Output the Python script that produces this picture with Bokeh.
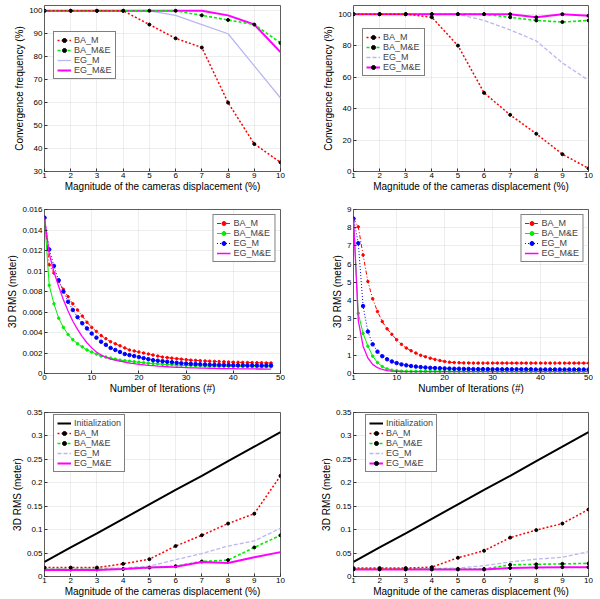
from bokeh.plotting import figure
from bokeh.layouts import column, row
from bokeh.models import (Legend, LegendItem, FixedTicker, CustomJSTickFormatter,
                          Label, Range1d)
from bokeh.embed import file_html
from bokeh.resources import INLINE

FONT = "Liberation Sans"

# ---------------- data ----------------
disp = [1, 2, 3, 4, 5, 6, 7, 8, 9, 10]

# panel 1 : convergence frequency (left)
p1_ba_m = [100, 100, 100, 100, 94, 88, 84, 60, 42, 34]
p1_ba_me = [100, 100, 100, 100, 100, 100, 98, 96, 94, 86]
p1_eg_m = [100, 100, 100, 100, 100, 98, 94, 90, 76, 62]
p1_eg_me = [100, 100, 100, 100, 100, 100, 100, 98, 94, 82]

# panel 2 : convergence frequency (right)
p2_ba_m = [100, 100, 100, 98, 80, 50, 36, 24, 11, 2]
p2_ba_me = [100, 100, 100, 100, 100, 100, 98, 96, 95, 96]
p2_eg_m = [100, 100, 100, 100, 100, 96, 90, 83, 69, 58]
p2_eg_me = [100, 100, 100, 100, 100, 100, 100, 98, 100, 99]

# panel 3 : 3D RMS vs iterations (left)
iters3 = list(range(0, 49))
p3_ba_m = [0.0152, 0.0106, 0.0098, 0.0090, 0.0082, 0.0075, 0.0068, 0.0062, 0.0056, 0.0050,
           0.0045, 0.0041, 0.0037, 0.0034, 0.0031, 0.0029, 0.0027, 0.0025, 0.0023, 0.0022,
           0.0021, 0.0020, 0.0019, 0.0018, 0.0017, 0.0016, 0.00155, 0.0015, 0.00145, 0.0014,
           0.00135, 0.0013, 0.00128, 0.00125, 0.00122, 0.0012, 0.00118, 0.00116, 0.00114, 0.00112,
           0.0011, 0.00109, 0.00108, 0.00107, 0.00106, 0.00105, 0.00104, 0.00103, 0.00102]
p3_ba_me = [0.0152, 0.0086, 0.0068, 0.0054, 0.0045, 0.0038, 0.0033, 0.0029, 0.0026, 0.0023,
            0.0021, 0.0019, 0.0017, 0.0016, 0.0015, 0.0014, 0.0013, 0.00125, 0.0012, 0.00115,
            0.0011, 0.00105, 0.0010, 0.00097, 0.00094, 0.00091, 0.00088, 0.00085, 0.00083, 0.00081,
            0.00079, 0.00077, 0.00076, 0.00075, 0.00074, 0.00073, 0.00072, 0.00071, 0.0007, 0.0007,
            0.00069, 0.00068, 0.00068, 0.00067, 0.00067, 0.00066, 0.00066, 0.00065, 0.00065]
p3_eg_m = [0.0152, 0.0121, 0.0105, 0.0091, 0.0080, 0.0070, 0.0062, 0.0055, 0.0049, 0.0044,
           0.0039, 0.0035, 0.0031, 0.0028, 0.0025, 0.0023, 0.0021, 0.0019, 0.0018, 0.0017,
           0.0016, 0.0015, 0.0014, 0.0013, 0.00125, 0.0012, 0.00115, 0.0011, 0.00105, 0.0010,
           0.00097, 0.00094, 0.00092, 0.0009, 0.00088, 0.00086, 0.00085, 0.00084, 0.00083, 0.00082,
           0.00081, 0.0008, 0.0008, 0.00079, 0.00079, 0.00078, 0.00078, 0.00078, 0.00078]
p3_eg_me = [0.0152, 0.0117, 0.0099, 0.0085, 0.0072, 0.0061, 0.0051, 0.0043, 0.0036, 0.0030,
            0.0025, 0.0021, 0.0018, 0.0016, 0.0014, 0.0013, 0.0012, 0.0011, 0.00102, 0.00096,
            0.0009, 0.00085, 0.0008, 0.00076, 0.00072, 0.00069, 0.00066, 0.00063, 0.00061, 0.00059,
            0.00057, 0.00055, 0.00054, 0.00053, 0.00052, 0.00051, 0.0005, 0.00049, 0.00048, 0.00048,
            0.00047, 0.00046, 0.00046, 0.00045, 0.00045, 0.00044, 0.00044, 0.00043, 0.00043]

# panel 4 : 3D RMS vs iterations (right), values in units of 1e-3 m
iters4 = list(range(1, 51))
p4_ba_m = [8.5, 8.05, 6.5, 5.05, 4.1, 3.4, 2.85, 2.45, 2.15, 1.85,
           1.6, 1.4, 1.25, 1.12, 1.0, 0.92, 0.84, 0.77, 0.71, 0.66,
           0.62, 0.6, 0.59, 0.58, 0.58, 0.57, 0.57, 0.57, 0.57, 0.57,
           0.57, 0.57, 0.57, 0.57, 0.57, 0.57, 0.57, 0.57, 0.57, 0.57,
           0.57, 0.57, 0.57, 0.57, 0.57, 0.57, 0.57, 0.57, 0.57, 0.57]
p4_ba_me = [8.5, 3.3, 2.2, 1.5, 0.95, 0.6, 0.38, 0.25, 0.18, 0.15,
            0.13, 0.12, 0.12, 0.12, 0.12, 0.12, 0.12, 0.12, 0.12, 0.12,
            0.12, 0.12, 0.12, 0.12, 0.12, 0.12, 0.12, 0.12, 0.12, 0.12,
            0.12, 0.12, 0.12, 0.12, 0.12, 0.12, 0.12, 0.12, 0.12, 0.12,
            0.12, 0.12, 0.12, 0.12, 0.12, 0.12, 0.12, 0.12, 0.12, 0.12]
p4_eg_m = [8.5, 7.15, 3.7, 2.3, 1.6, 1.2, 0.95, 0.78, 0.66, 0.57,
           0.5, 0.45, 0.41, 0.38, 0.35, 0.33, 0.31, 0.3, 0.29, 0.28,
           0.27, 0.26, 0.26, 0.25, 0.25, 0.24, 0.24, 0.24, 0.24, 0.23,
           0.23, 0.23, 0.23, 0.23, 0.23, 0.23, 0.23, 0.23, 0.22, 0.22,
           0.22, 0.22, 0.22, 0.22, 0.22, 0.22, 0.22, 0.22, 0.22, 0.22]
p4_eg_me = [8.5, 2.9, 1.5, 0.85, 0.5, 0.32, 0.22, 0.16, 0.13, 0.12,
            0.11, 0.1, 0.1, 0.1, 0.1, 0.1, 0.1, 0.1, 0.1, 0.1,
            0.1, 0.1, 0.1, 0.1, 0.1, 0.1, 0.1, 0.1, 0.1, 0.1,
            0.1, 0.1, 0.1, 0.1, 0.1, 0.1, 0.1, 0.1, 0.1, 0.1,
            0.1, 0.1, 0.1, 0.1, 0.1, 0.1, 0.1, 0.1, 0.1, 0.1]

# panel 5 : 3D RMS vs displacement (left)
init_rms = [0.031, 0.062, 0.092, 0.123, 0.154, 0.185, 0.215, 0.246, 0.277, 0.308]
p5_ba_m = [0.019, 0.019, 0.019, 0.027, 0.037, 0.065, 0.088, 0.113, 0.134, 0.215]
p5_ba_me = [0.015, 0.015, 0.015, 0.016, 0.019, 0.022, 0.032, 0.035, 0.062, 0.088]
p5_eg_m = [0.017, 0.017, 0.018, 0.018, 0.022, 0.036, 0.049, 0.065, 0.076, 0.103]
p5_eg_me = [0.014, 0.014, 0.014, 0.016, 0.019, 0.021, 0.031, 0.029, 0.041, 0.052]

# panel 6 : 3D RMS vs displacement (right)
p6_ba_m = [0.018, 0.018, 0.018, 0.020, 0.040, 0.055, 0.083, 0.099, 0.113, 0.143]
p6_ba_me = [0.016, 0.016, 0.016, 0.016, 0.016, 0.016, 0.025, 0.026, 0.027, 0.028]
p6_eg_m = [0.016, 0.016, 0.017, 0.017, 0.018, 0.023, 0.031, 0.037, 0.041, 0.053]
p6_eg_me = [0.015, 0.015, 0.015, 0.015, 0.015, 0.015, 0.018, 0.019, 0.020, 0.020]

XLAB_DISP = "Magnitude of the cameras displacement (%)"
XLAB_ITER = "Number of Iterations (#)"
YLAB_CONV = "Convergence frequency (%)"
YLAB_RMS = "3D RMS (meter)"

RED = "#ff0000"
GREEN = "#00ee00"
LAV = "#b8b8f0"
MAG = "#ff00ff"
BLUE = "#0000ff"


def make_fig(left_col, height, top, bottom, xr, yr, xticks, yticks, xlabel, ylabel):
    if left_col:
        w, bl, br = 300, 44, 20
    else:
        w, bl, br = 293, 53, 5
    p = figure(width=w, height=height, x_range=Range1d(*xr), y_range=Range1d(*yr),
               output_backend="svg", toolbar_location=None,
               min_border_left=bl, min_border_right=br,
               min_border_top=top, min_border_bottom=bottom)
    p.background_fill_color = "white"
    p.border_fill_color = "white"
    p.outline_line_color = "#333333"
    p.outline_line_width = 0.8
    p.xaxis.ticker = FixedTicker(ticks=xticks)
    p.yaxis.ticker = FixedTicker(ticks=yticks)
    for ax in (p.xaxis[0], p.yaxis[0]):
        ax.axis_line_color = None
        ax.major_tick_in = 3
        ax.major_tick_out = 0
        ax.major_tick_line_color = "#333333"
        ax.minor_tick_line_color = None
        ax.major_label_text_font = FONT
        ax.major_label_text_font_size = "8px"
        ax.major_label_text_color = "black"
        ax.axis_label_text_font = FONT
        ax.axis_label_text_font_size = "10px"
        ax.axis_label_text_font_style = "normal"
        ax.axis_label_text_color = "black"
        ax.formatter = CustomJSTickFormatter(
            code="return parseFloat(tick.toFixed(4)).toString();")
    p.xaxis.major_label_standoff = 1
    p.xaxis.axis_label_standoff = 0
    p.yaxis.major_label_standoff = 2
    p.yaxis.axis_label_standoff = 1
    p.xaxis.axis_label = xlabel
    p.yaxis.axis_label = ylabel
    for g in (p.xgrid[0], p.ygrid[0]):
        g.grid_line_color = "#d0d0d0"
        g.grid_line_dash = "1 1"
        g.grid_line_width = 0.8
    return p


def series(p, x, y, color, width, dash, marker_color=None, msize=3):
    rs = [p.line(x, y, line_color=color, line_width=width, line_dash=dash)]
    if marker_color is not None:
        rs.append(p.scatter(x, y, marker="circle", size=msize,
                            fill_color=marker_color, line_color=marker_color))
    return rs


def legend(p, items, location, margin=0):
    lg = Legend(items=[LegendItem(label=l, renderers=r) for l, r in items],
                location=location, margin=margin)
    lg.border_line_color = "black"
    lg.border_line_width = 0.7
    lg.background_fill_color = "white"
    lg.background_fill_alpha = 1.0
    lg.label_text_font = FONT
    lg.label_text_font_size = "9px"
    lg.label_height = 10
    lg.glyph_height = 10
    lg.glyph_width = 14
    lg.label_standoff = 3
    lg.padding = 3
    lg.spacing = 0
    p.add_layout(lg)


# ---------- row 1 ----------
f1 = make_fig(True, 198, 5, 27, (1, 10), (30, 102.3), disp, [30, 40, 50, 60, 70, 80, 90, 100],
              XLAB_DISP, YLAB_CONV)
r_eg_m = series(f1, disp, p1_eg_m, LAV, 1.3, "solid")
r_eg_me = series(f1, disp, p1_eg_me, MAG, 2, "solid")
r_ba_me = series(f1, disp, p1_ba_me, GREEN, 1.6, "3 2", "black")
r_ba_m = series(f1, disp, p1_ba_m, RED, 1.5, "2 2", "black")
legend(f1, [("BA_M", r_ba_m), ("BA_M&E", r_ba_me), ("EG_M", r_eg_m), ("EG_M&E", r_eg_me)],
       (9, 92))

f2 = make_fig(False, 198, 5, 27, (1, 10), (0, 105.5), disp, [0, 20, 40, 60, 80, 100],
              XLAB_DISP, YLAB_CONV)
r_eg_m = series(f2, disp, p2_eg_m, LAV, 1.3, "4 2")
r_ba_me = series(f2, disp, p2_ba_me, GREEN, 1.6, "3 2", "black")
r_eg_me = series(f2, disp, p2_eg_me, MAG, 2, "solid", "black")
r_ba_m = series(f2, disp, p2_ba_m, RED, 1.5, "2 2", "black")
legend(f2, [("BA_M", r_ba_m), ("BA_M&E", r_ba_me), ("EG_M", r_eg_m), ("EG_M&E", r_eg_me)],
       (9, 95))

# ---------- row 2 ----------
f3 = make_fig(True, 202, 11, 27, (0, 50), (0, 0.016), [0, 10, 20, 30, 40, 50],
              [0, 0.002, 0.004, 0.006, 0.008, 0.01, 0.012, 0.014, 0.016],
              XLAB_ITER, YLAB_RMS)
r_ba_m = series(f3, iters3, p3_ba_m, RED, 1, "4 2 1 2", RED, 2.5)
r_ba_me = series(f3, iters3, p3_ba_me, GREEN, 1, "solid", GREEN, 2.5)
r_eg_m = series(f3, iters3, p3_eg_m, BLUE, 1, "1 2", BLUE, 3.5)
r_eg_me = series(f3, iters3, p3_eg_me, MAG, 1.3, "solid")
legend(f3, [("BA_M", r_ba_m), ("BA_M&E", r_ba_me), ("EG_M", r_eg_m), ("EG_M&E", r_eg_me)],
       "top_right", 5)

f4 = make_fig(False, 202, 11, 27, (1, 50), (0, 9), [1, 10, 20, 30, 40, 50],
              [0, 1, 2, 3, 4, 5, 6, 7, 8, 9], XLAB_ITER, YLAB_RMS)
r_ba_m = series(f4, iters4, p4_ba_m, RED, 1, "4 2 1 2", RED, 2.5)
r_ba_me = series(f4, iters4, p4_ba_me, GREEN, 1, "solid", GREEN, 2.5)
r_eg_m = series(f4, iters4, p4_eg_m, BLUE, 1, "1 2", BLUE, 3.5)
r_eg_me = series(f4, iters4, p4_eg_me, MAG, 1.3, "solid")
legend(f4, [("BA_M", r_ba_m), ("BA_M&E", r_ba_me), ("EG_M", r_eg_m), ("EG_M&E", r_eg_me)],
       "top_right", 5)
f4.add_layout(Label(x=1, y=9, x_offset=1, y_offset=1, text="x 10", text_font=FONT,
                    text_font_size="8px", text_baseline="bottom", text_align="left"))
f4.add_layout(Label(x=1, y=9, x_offset=19, y_offset=5, text="-3", text_font=FONT,
                    text_font_size="6px", text_baseline="bottom", text_align="left"))

# ---------- row 3 ----------
rms_ticks = [0, 0.05, 0.1, 0.15, 0.2, 0.25, 0.3, 0.35]
f5 = make_fig(True, 199, 12, 23, (1, 10), (0, 0.35), disp, rms_ticks, XLAB_DISP, YLAB_RMS)
r_init = series(f5, disp, init_rms, "black", 2, "solid")
r_eg_m = series(f5, disp, p5_eg_m, LAV, 1.3, "4 2")
r_ba_me = series(f5, disp, p5_ba_me, GREEN, 1.6, "3 2", "black")
r_eg_me = series(f5, disp, p5_eg_me, MAG, 2, "solid")
r_ba_m = series(f5, disp, p5_ba_m, RED, 1.5, "2 2", "black")
legend(f5, [("Initialization", r_init), ("BA_M", r_ba_m), ("BA_M&E", r_ba_me),
            ("EG_M", r_eg_m), ("EG_M&E", r_eg_me)], (9, 104))

f6 = make_fig(False, 199, 12, 23, (1, 10), (0, 0.35), disp, rms_ticks, XLAB_DISP, YLAB_RMS)
r_init = series(f6, disp, init_rms, "black", 2, "solid")
r_eg_m = series(f6, disp, p6_eg_m, LAV, 1.3, "4 2")
r_ba_me = series(f6, disp, p6_ba_me, GREEN, 1.6, "3 2", "black")
r_eg_me = series(f6, disp, p6_eg_me, MAG, 2, "solid", "black")
r_ba_m = series(f6, disp, p6_ba_m, RED, 1.5, "2 2", "black")
legend(f6, [("Initialization", r_init), ("BA_M", r_ba_m), ("BA_M&E", r_ba_me),
            ("EG_M", r_eg_m), ("EG_M&E", r_eg_me)], (12, 104))

layout = column(row(f1, f2), row(f3, f4), row(f5, f6))
open("out.html", "w").write(file_html(layout, INLINE))
